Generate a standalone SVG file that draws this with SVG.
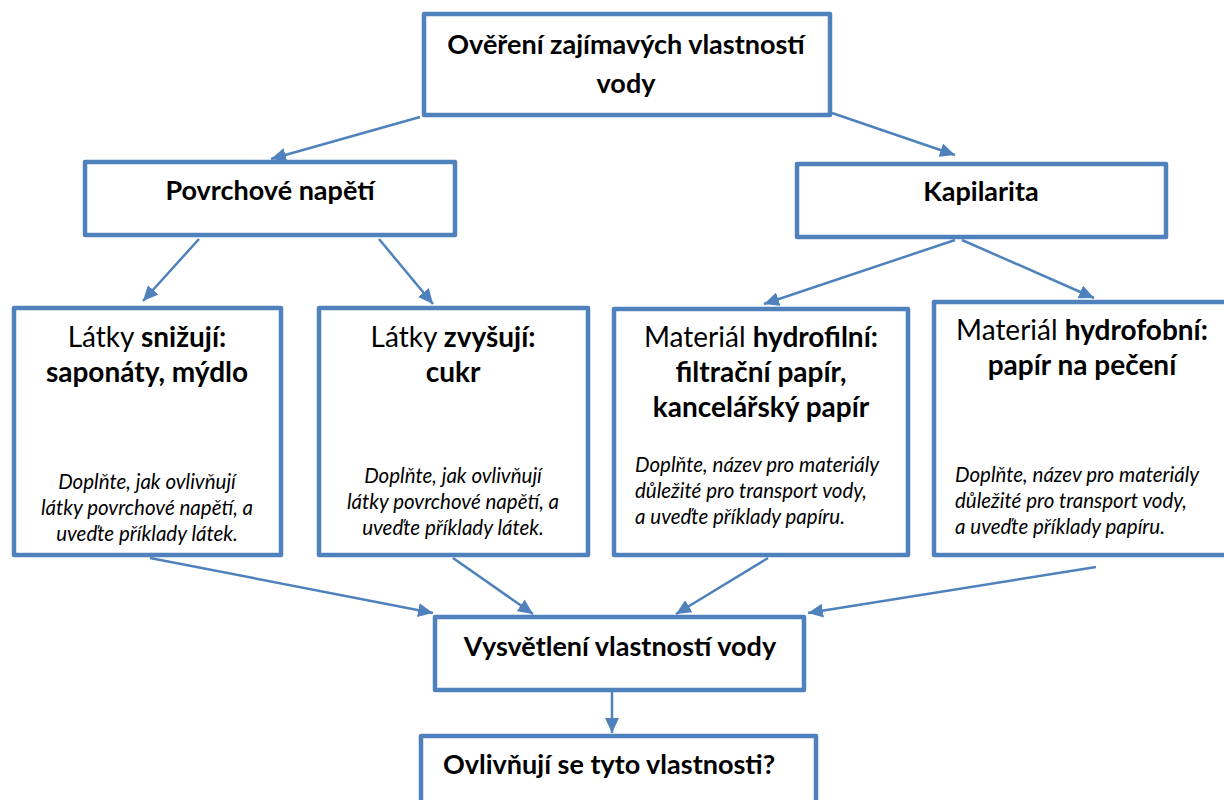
<svg xmlns="http://www.w3.org/2000/svg" width="1224" height="800" viewBox="0 0 1224 800">
<defs>
<style>
.box{fill:#fff;stroke:#4f81bd;stroke-width:4.5;stroke-linejoin:round}
.con{fill:none;stroke:#4f81bd;stroke-width:2.5;marker-end:url(#ah)}
text{font-family:Lato,"Open Sans","Liberation Sans",sans-serif;fill:#000}
.t{font-size:27px;font-weight:bold;text-anchor:middle}
.b{font-size:27px;font-weight:bold}
.r{font-size:27px;font-weight:normal}
.s{font-size:28px}
.m{text-anchor:middle}
.i{font-size:20.5px;font-style:italic}
</style>
<marker id="ah" markerUnits="userSpaceOnUse" markerWidth="15" markerHeight="14" refX="15" refY="7" orient="auto">
<path d="M0,0 L15,7 L0,14 z" fill="#4f81bd"/>
</marker>
</defs>
<g id="connectors">
<line class="con" x1="420" y1="117" x2="271" y2="159"/>
<line class="con" x1="832" y1="113" x2="955" y2="155"/>
<line class="con" x1="199" y1="239" x2="143" y2="301"/>
<line class="con" x1="379" y1="239" x2="433" y2="304"/>
<line class="con" x1="955" y1="240" x2="764" y2="304"/>
<line class="con" x1="962" y1="240" x2="1094" y2="298"/>
<line class="con" x1="150" y1="558" x2="433" y2="613"/>
<line class="con" x1="453" y1="558" x2="533" y2="614"/>
<line class="con" x1="768" y1="558" x2="676" y2="614"/>
<line class="con" x1="1096" y1="567" x2="808" y2="613"/>
<line class="con" x1="612" y1="692" x2="612" y2="733"/>
</g>
<g id="n-top">
<rect class="box" x="424" y="14" width="406" height="101"/>
<text class="t" x="626" y="54">Ověření zajímavých vlastností</text>
<text class="t" x="626" y="93">vody</text>
</g>
<g id="n-povrch">
<rect class="box" x="85" y="162" width="370" height="73"/>
<text class="t" x="270" y="200">Povrchové napětí</text>
</g>
<g id="n-kapil">
<rect class="box" x="797" y="164" width="369" height="73"/>
<text class="t" x="981" y="201">Kapilarita</text>
</g>
<g id="n-snizuji">
<rect class="box" x="14" y="308" width="267" height="247"/>
<text class="m" x="147" y="347"><tspan class="r s">Látky </tspan><tspan class="b s">snižují:</tspan></text>
<text class="t s" x="147" y="382">saponáty, mýdlo</text>
<text class="i m" x="147" y="489">Doplňte, jak ovlivňují</text>
<text class="i m" x="147" y="515">látky povrchové napětí, a</text>
<text class="i m" x="147" y="541">uveďte příklady látek.</text>
</g>
<g id="n-zvysuji">
<rect class="box" x="319" y="308" width="269" height="247"/>
<text class="m" x="453" y="347"><tspan class="r s">Látky </tspan><tspan class="b s">zvyšují:</tspan></text>
<text class="t s" x="453" y="382">cukr</text>
<text class="i m" x="453" y="483">Doplňte, jak ovlivňují</text>
<text class="i m" x="453" y="509">látky povrchové napětí, a</text>
<text class="i m" x="453" y="535">uveďte příklady látek.</text>
</g>
<g id="n-hydrofilni">
<rect class="box" x="614" y="309" width="294" height="246"/>
<text class="m" x="761" y="347"><tspan class="r s">Materiál </tspan><tspan class="b s">hydrofilní:</tspan></text>
<text class="t s" x="761" y="382">filtrační papír,</text>
<text class="t s" x="761" y="417">kancelářský papír</text>
<text class="i" x="635" y="472">Doplňte, název pro materiály</text>
<text class="i" x="635" y="498">důležité pro transport vody,</text>
<text class="i" x="635" y="524">a uveďte příklady papíru.</text>
</g>
<g id="n-hydrofobni">
<rect class="box" x="934" y="302" width="300" height="253"/>
<text class="m" x="1082" y="340"><tspan class="r s">Materiál </tspan><tspan class="b s">hydrofobní:</tspan></text>
<text class="t s" x="1082" y="375">papír na pečení</text>
<text class="i" x="955" y="482">Doplňte, název pro materiály</text>
<text class="i" x="955" y="508">důležité pro transport vody,</text>
<text class="i" x="955" y="534">a uveďte příklady papíru.</text>
</g>
<g id="n-vysvetleni">
<rect class="box" x="435" y="617" width="369" height="73"/>
<text class="t" x="620" y="656">Vysvětlení vlastností vody</text>
</g>
<g id="n-ovlivnuji">
<rect class="box" x="421" y="736" width="395" height="90"/>
<text class="b" x="443" y="774">Ovlivňují se tyto vlastnosti?</text>
</g>
</svg>
